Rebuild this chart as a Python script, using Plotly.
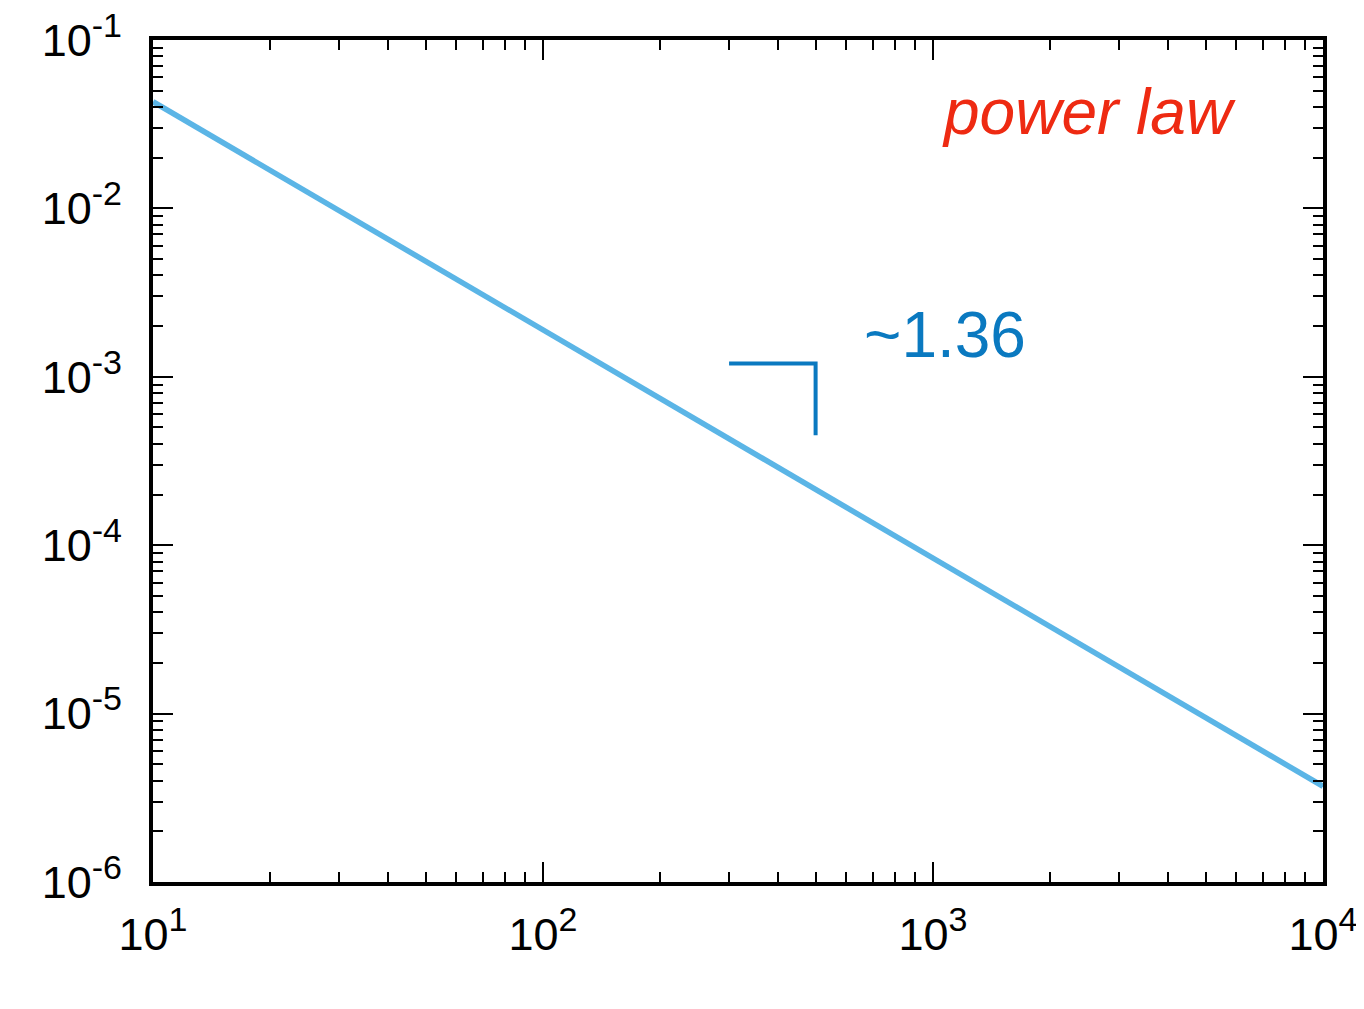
import plotly.graph_objects as go

# data
x_vals = [10, 100, 1000, 10000]
y_vals = [0.043, 1.9e-3, 8.5e-5, 3.7e-6]

slope_x = [300, 500, 500]
slope_y = [1.2e-3, 1.2e-3, 4.5e-4]

x_ticks = [10, 100, 1000, 10000]
x_exps = ["1", "2", "3", "4"]
y_ticks = [1e-6, 1e-5, 1e-4, 1e-3, 1e-2, 1e-1]
y_exps = ["-6", "-5", "-4", "-3", "-2", "-1"]

FONT = "Liberation Sans, Arial, Helvetica, sans-serif"


def pow_label(e):
    return "10<sup><span style='font-size:34px'>" + e + "</span></sup>"


fig = go.Figure()
fig.add_trace(go.Scatter(x=x_vals, y=y_vals, mode="lines",
                         line=dict(color="#5BB5E6", width=5.5), showlegend=False))
fig.add_trace(go.Scatter(x=slope_x, y=slope_y, mode="lines",
                         line=dict(color="#0A79C0", width=4), showlegend=False))

axis_common = dict(
    type="log", showgrid=False, zeroline=False, automargin=False,
    showline=True, linecolor="black", linewidth=4, mirror="allticks",
    ticks="inside", ticklen=20, tickwidth=2, tickcolor="black",
    ticklabeloverflow="allow",
    tickfont=dict(family=FONT, size=45, color="black"),
    minor=dict(dtick="D1", ticks="inside", ticklen=10, tickwidth=2,
               tickcolor="black", showgrid=False),
)

fig.update_xaxes(range=[1, 4], tickvals=x_ticks,
                 ticktext=[pow_label(e) for e in x_exps],
                 ticklabelstandoff=10, **axis_common)
fig.update_yaxes(range=[-6, -1], tickvals=y_ticks,
                 ticktext=[pow_label(e) for e in y_exps],
                 ticklabelstandoff=18, **axis_common)

fig.add_annotation(text="power law", xref="paper", yref="paper", x=0.927, y=0.9145,
                   xanchor="right", yanchor="middle", showarrow=False,
                   font=dict(family=FONT, size=64, color="#EE2A12", style="italic"))
fig.add_annotation(text="~1.36", xref="paper", yref="paper", x=0.606, y=0.65,
                   xanchor="left", yanchor="middle", showarrow=False,
                   font=dict(family=FONT, size=64, color="#0A79C0"))

fig.update_layout(
    width=1356, height=1001,
    margin=dict(l=145, r=41, t=32, b=127),
    plot_bgcolor="white", paper_bgcolor="white",
)

fig.write_html("out.html")
